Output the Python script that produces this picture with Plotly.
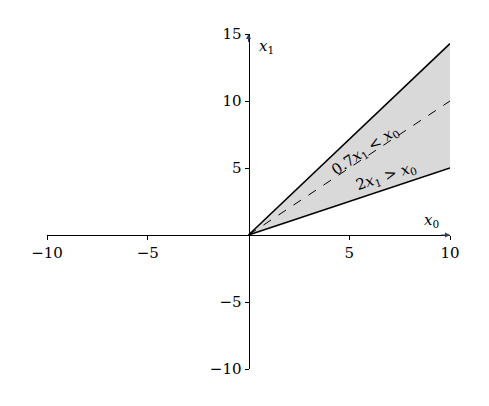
import plotly.graph_objects as go

x_end = [0, 10]
upper = [0, 10 / 0.7]
middle = [0, 10]
lower = [0, 5]
xticks = [-10, -5, 5, 10]
yticks = [-10, -5, 5, 10, 15]

font = dict(family="DejaVu Serif, serif", size=15, color="black")

fig = go.Figure()
fig.add_trace(go.Scatter(x=x_end, y=lower, mode="lines", line=dict(color="black", width=1.6)))
fig.add_trace(go.Scatter(x=x_end, y=upper, mode="lines", fill="tonexty",
                         fillcolor="#d9d9d9", line=dict(color="black", width=1.6)))
fig.add_trace(go.Scatter(x=x_end, y=middle, mode="lines",
                         line=dict(color="black", width=1, dash="dash")))

# axis arrows
fig.add_annotation(x=10, y=0, ax=9.5, ay=0, xref="x", yref="y", axref="x", ayref="y",
                   showarrow=True, arrowhead=2, arrowsize=1, arrowwidth=1, text="")
fig.add_annotation(x=0, y=15, ax=0, ay=14.3, xref="x", yref="y", axref="x", ayref="y",
                   showarrow=True, arrowhead=2, arrowsize=1, arrowwidth=1, text="")
fig.add_annotation(x=9.1, y=1.1, text="<i>x</i><sub>0</sub>", showarrow=False, font=font)
fig.add_annotation(x=0.9, y=14.1, text="<i>x</i><sub>1</sub>", showarrow=False, font=font)
fig.add_annotation(x=5.8, y=6.3, text="0.7<i>x</i><sub>1</sub> &lt; <i>x</i><sub>0</sub>",
                   textangle=-34, showarrow=False, font=font)
fig.add_annotation(x=6.8, y=4.4, text="2<i>x</i><sub>1</sub> &gt; <i>x</i><sub>0</sub>",
                   textangle=-18, showarrow=False, font=font)

fig.update_layout(
    width=489, height=406, showlegend=False,
    plot_bgcolor="white", paper_bgcolor="white",
    margin=dict(l=39, r=47, t=26, b=45), font=font,
    xaxis=dict(range=[-10, 10], tickvals=xticks, ticktext=["−10", "−5", "5", "10"],
               showgrid=False, zeroline=False, showline=True, linecolor="black", linewidth=1,
               ticks="outside", ticklen=4, tickcolor="black", anchor="free", position=0.4),
    yaxis=dict(range=[-10, 15], tickvals=yticks, ticktext=["−10", "−5", "5", "10", "15"],
               showgrid=False, zeroline=False, showline=True, linecolor="black", linewidth=1,
               ticks="outside", ticklen=4, tickcolor="black", anchor="free", position=0.5),
)
fig.write_html("out.html")
